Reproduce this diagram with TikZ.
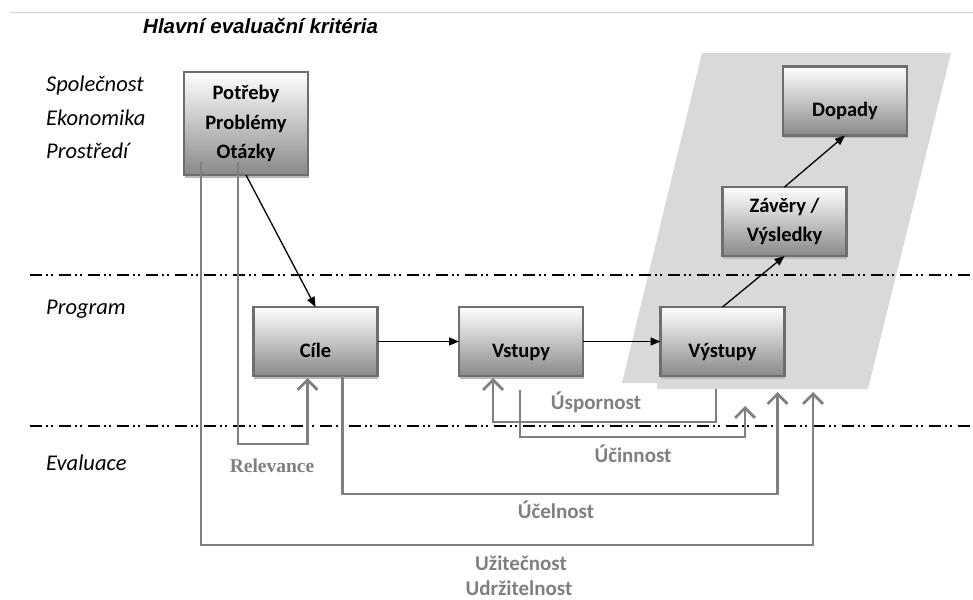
\documentclass[tikz,border=0pt]{standalone}
\usepackage{fontspec}
\setmainfont{Carlito}
\newfontfamily\arialf{Liberation Sans}
\newfontfamily\timesf{Liberation Serif}
\usetikzlibrary{arrows.meta,shadows}
\definecolor{fbgray}{HTML}{808080}
\definecolor{lblgray}{HTML}{7F7F7F}
\definecolor{areagray}{HTML}{D9D9D9}
\definecolor{boxborder}{HTML}{6E6E6E}
\definecolor{boxbottom}{HTML}{898989}
\newcommand{\lowtxt}[1]{\raisebox{-16pt}[0pt][0pt]{#1}}
\begin{document}
\begin{tikzpicture}[x=1pt,y=-1pt,
  box/.style={rectangle, draw=boxborder, line width=2.5pt, minimum width=124pt,
    minimum height=69pt, outer sep=0pt, inner sep=0pt, top color=white, bottom color=boxbottom,
    font=\bfseries\fontsize{20.5}{29.5}\selectfont, align=center, text=black,
    drop shadow={shadow xshift=0.5pt, shadow yshift=-2.5pt, fill=gray!55, opacity=1}},
  flow/.style={line width=1.3pt, -{Triangle[length=10pt,width=8pt]}},
  fb/.style={draw=fbgray, line width=2.8pt, -{Straight Barb[length=10pt,width=20pt,line width=2.8pt]}},
  sepline/.style={line width=1.6pt, dash pattern=on 12pt off 4pt on 1.5pt off 3.5pt on 1.5pt off 6.5pt},
  side/.style={anchor=west, font=\itshape\fontsize{22.5}{26}\selectfont, inner sep=0pt},
  crit/.style={font=\bfseries\fontsize{21}{24}\selectfont, text=lblgray, inner sep=0pt}
]
\useasboundingbox (0,0) rectangle (973,599);
% top rule
\draw[gray!35, line width=1pt] (10,13) -- (973,13);
% title
\node[anchor=west, inner sep=0pt, font=\arialf\bfseries\itshape\fontsize{20.5}{24}\selectfont] (title) at (143,26) {Hlavní evaluační kritéria};
% shaded area
\fill[areagray] (702,53) -- (951,53) -- (868,389) -- (657,389) -- (657,383) -- (622,383) -- cycle;
% separators
\draw[sepline] (30,275) -- (973,275);
\draw[sepline] (30,426) -- (973,426);
% side labels
\node[side] (spol) at (46,86) {Společnost};
\node[side] (ekon) at (46,118) {Ekonomika};
\node[side] (pros) at (46,151) {Prostředí};
\node[side] (prog) at (46,309) {Program};
\node[side] (eval) at (46,463) {Evaluace};
% boxes
\node[box, minimum height=103pt] (P) at (246,123.5) {Potřeby\\Problémy\\Otázky};
\node[box] (C) at (315.5,341.5) {\lowtxt{Cíle}};
\node[box] (V) at (521,341.5) {\lowtxt{Vstupy}};
\node[box] (Vy) at (722.5,341.5) {\lowtxt{Výstupy}};
\node[box] (Z) at (784.5,221.5) {Závěry /\\Výsledky};
\node[box] (D) at (845,101) {\lowtxt{Dopady}};
% main flow
\draw[flow] (P.south) -- (C.north);
\draw[flow] (C.east) -- (V.west);
\draw[flow] (V.east) -- (Vy.west);
\draw[flow] (Vy.north) -- (Z.south);
\draw[flow] (Z.north) -- (D.south);
% feedback loops
\coordinate (uzEnd) at (813,392);
\coordinate (ucEnd) at (777.5,392);
\coordinate (uinEnd) at (745,406);
\coordinate (uspStart) at (716,389);
\coordinate (uinStart) at (520,390);
\draw[fb] ([xshift=54pt,yshift=13pt]P.south west) |- ([xshift=54pt,yshift=-68pt]C.south west) -- ([xshift=54pt,yshift=-2pt]C.south west);
\draw[fb] ([xshift=17pt,yshift=13pt]P.south west) |- (uzEnd |- 0,545) -- (uzEnd);
\draw[fb] ([xshift=27pt]C.south) |- (ucEnd |- 0,494) -- (ucEnd);
\draw[fb] (uspStart) |- ([xshift=34pt,yshift=-46pt]V.south west) -- ([xshift=34pt,yshift=-2pt]V.south west);
\draw[fb] (uinStart) |- (uinEnd |- 0,437) -- (uinEnd);
% criteria labels
\node[crit] (usp) at (596,402) {Úspornost};
\node[crit] (uin) at (633,454) {Účinnost};
\node[crit] (uce) at (556,510) {Účelnost};
\node[crit, font=\timesf\bfseries\fontsize{19.5}{24}\selectfont] (rel) at (272,466) {Relevance};
\node[crit] (uzi) at (521,563) {Užitečnost};
\node[crit] (udr) at (519,588) {Udržitelnost};
\end{tikzpicture}
\end{document}
